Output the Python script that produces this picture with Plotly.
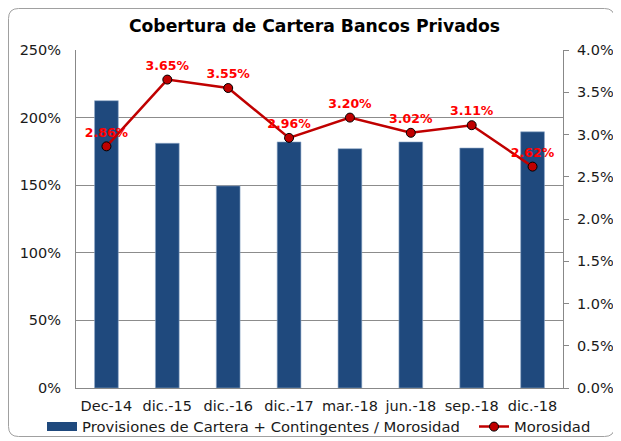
import plotly.graph_objects as go

categories = ["Dec-14", "dic.-15", "dic.-16", "dic.-17", "mar.-18", "jun.-18", "sep.-18", "dic.-18"]
cobertura = [2.125, 1.81, 1.495, 1.82, 1.77, 1.82, 1.775, 1.895]
morosidad = [0.0286, 0.0365, 0.0355, 0.0296, 0.0320, 0.0302, 0.0311, 0.0262]
morosidad_labels = ["2.86%", "3.65%", "3.55%", "2.96%", "3.20%", "3.02%", "3.11%", "2.62%"]

FONT = "DejaVu Sans"
BAR_NAME = "Provisiones de Cartera + Contingentes / Morosidad"
# The page places the figure 8px in from the window's top-left corner
W, H = 613, 433
L, T, PW, PH = 68, 42, 487, 338

fig = go.Figure()
fig.add_trace(go.Bar(
    x=categories, y=cobertura,
    name=BAR_NAME,
    marker=dict(color="#1F497D", line=dict(color="#8FA8C8", width=0.6)),
    yaxis="y", showlegend=False,
))
# legend-only entry giving a wide rectangular swatch for the bar series
fig.add_trace(go.Scatter(
    x=[None], y=[None], name=BAR_NAME, mode="lines",
    line=dict(color="#1F497D", width=9), legend="legend", hoverinfo="skip",
))
fig.add_trace(go.Scatter(
    x=categories, y=morosidad, name="Morosidad",
    mode="lines+markers+text",
    line=dict(color="#C00000", width=2.5),
    marker=dict(color="#C00000", size=9, line=dict(color="#000000", width=1)),
    text=morosidad_labels, textposition="top center",
    textfont=dict(family=FONT, size=12.5, color="#FF0000", weight="bold"),
    yaxis="y2", legend="legend2",
))

# rounded outer border (paper coords)
def px(x):
    return (x - L) / PW
def py(y):
    return (T + PH - y) / PH
x0, x1, y0, y1, r = 0.5, 606.5, 0.5, 428.5, 10
path = (f"M {px(x0+r)},{py(y0)} L {px(x1-r)},{py(y0)} Q {px(x1)},{py(y0)} {px(x1)},{py(y0+r)} "
        f"L {px(x1)},{py(y1-r)} Q {px(x1)},{py(y1)} {px(x1-r)},{py(y1)} "
        f"L {px(x0+r)},{py(y1)} Q {px(x0)},{py(y1)} {px(x0)},{py(y1-r)} "
        f"L {px(x0)},{py(y0+r)} Q {px(x0)},{py(y0)} {px(x0+r)},{py(y0)} Z")

legend_common = dict(orientation="h", xref="container", yref="container",
                     xanchor="left", y=1 - 419 / H, yanchor="middle",
                     font=dict(family=FONT, size=14.8, color="#1a1a1a"), itemwidth=30,
                     bgcolor="rgba(0,0,0,0)")

fig.update_layout(
    width=W, height=H,
    margin=dict(l=L, r=W - L - PW, t=T, b=H - T - PH, autoexpand=False),
    paper_bgcolor="white", plot_bgcolor="white",
    font=dict(family=FONT, size=14, color="#1a1a1a"),
    title=dict(text="<b>Cobertura de Cartera Bancos Privados</b>", x=0.5, xanchor="center",
               y=1 - 18 / H, yanchor="middle", font=dict(family=FONT, size=17.2, color="#000")),
    bargap=0.61,
    showlegend=True,
    legend=dict(x=34 / W, **legend_common),
    legend2=dict(x=466 / W, **legend_common),
    xaxis=dict(type="category", showline=True, linecolor="#888888", linewidth=1,
               ticks="", tickfont=dict(size=14.5), automargin=False, ticklabelstandoff=5),
    yaxis=dict(range=[0, 2.5], dtick=0.5, tickformat=".0%", showgrid=True,
               gridcolor="#8c8c8c", gridwidth=1, showline=True, linecolor="#888888",
               zeroline=False, ticks="", tickfont=dict(size=14.5), automargin=False,
               ticklabelstandoff=11),
    yaxis2=dict(range=[0, 0.04], dtick=0.005, tickformat=".1%", overlaying="y", side="right",
                showgrid=False, showline=True, linecolor="#888888", zeroline=False,
                ticks="outside", ticklen=5, tickcolor="#888888", tickfont=dict(size=14.5),
                automargin=False, ticklabelstandoff=5),
    shapes=[dict(type="path", path=path, xref="paper", yref="paper",
                 line=dict(color="#a0a0a0", width=1), fillcolor="rgba(0,0,0,0)", layer="below")],
)
fig.write_html("out.html")
